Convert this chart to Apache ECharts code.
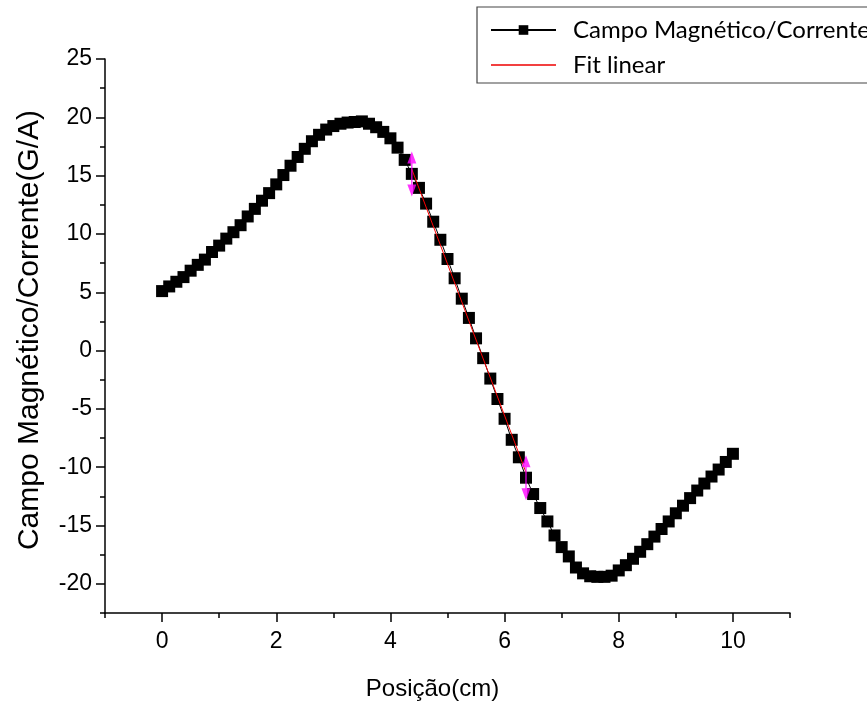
<!DOCTYPE html>
<html>
<head>
<meta charset="utf-8">
<title>Campo Magnético/Corrente</title>
<script src="https://cdn.jsdelivr.net/npm/echarts@6/dist/echarts.min.js"></script>
<style>
  html, body { margin: 0; padding: 0; background: #fff; }
  #main { width: 867px; height: 708px; }
</style>
</head>
<body>
<div id="main"></div>
<script>
// posição (cm)
var posicao = [0, 0.125, 0.25, 0.375, 0.5, 0.625, 0.75, 0.875,
  1, 1.125, 1.25, 1.375, 1.5, 1.625, 1.75, 1.875,
  2, 2.125, 2.25, 2.375, 2.5, 2.625, 2.75, 2.875,
  3, 3.125, 3.25, 3.375, 3.5, 3.625, 3.75, 3.875,
  4, 4.125, 4.25, 4.375, 4.5, 4.625, 4.75, 4.875,
  5, 5.125, 5.25, 5.375, 5.5, 5.625, 5.75, 5.875,
  6, 6.125, 6.25, 6.375, 6.5, 6.625, 6.75, 6.875,
  7, 7.125, 7.25, 7.375, 7.5, 7.625, 7.75, 7.875,
  8, 8.125, 8.25, 8.375, 8.5, 8.625, 8.75, 8.875,
  9, 9.125, 9.25, 9.375, 9.5, 9.625, 9.75, 9.875,
  10];
// campo magnético / corrente (G/A)
var campo = [5.1, 5.5, 5.9, 6.3, 6.85, 7.35, 7.8, 8.45,
  9.0, 9.6, 10.15, 10.75, 11.5, 12.15, 12.85, 13.5,
  14.25, 15.05, 15.85, 16.6, 17.3, 17.95, 18.5, 18.95,
  19.25, 19.45, 19.55, 19.6, 19.65, 19.45, 19.15, 18.75,
  18.2, 17.4, 16.35, 15.15, 13.95, 12.6, 11.05, 9.5,
  7.85, 6.2, 4.45, 2.8, 1.05, -0.65, -2.4, -4.15,
  -5.85, -7.65, -9.15, -10.9, -12.3, -13.5, -14.65, -15.85,
  -16.85, -17.65, -18.6, -19.1, -19.35, -19.4, -19.4, -19.3,
  -18.85, -18.4, -17.85, -17.25, -16.6, -15.95, -15.3, -14.65,
  -13.95, -13.3, -12.65, -12.0, -11.4, -10.8, -10.2, -9.55,
  -8.85];
// fit linear (ends of the fitted range)
var fitX = [4.375, 6.375];
var fitY = [15.55, -10.45];
// range markers of the fit
var rangeX = [4.375, 6.375];
var rangeY = [15.15, -10.9];

var xMajor = [0, 2, 4, 6, 8, 10];
var yMajor = [-20, -15, -10, -5, 0, 5, 10, 15, 20, 25];

function pairs(xs, ys) {
  return xs.map(function (x, i) { return [x, ys[i]]; });
}

var arrowPath = 'path://M4.5,0L9,12L5.2,12L5.2,33L9,33L4.5,45L0,33L3.8,33L3.8,12L0,12Z';
var labelFont = 'Liberation Sans, Arial, sans-serif';

var chart = echarts.init(document.getElementById('main'));
chart.setOption({
  animation: false,
  backgroundColor: '#fff',
  grid: { left: 105, right: 77, top: 59, bottom: 95 },
  legend: {
    data: [
      { name: 'Campo Magnético/Corrente' },
      { name: 'Fit linear', icon: 'path://M0,0L65,0L65,1.6L0,1.6Z', itemStyle: { color: '#ee0000' } }
    ],
    orient: 'vertical',
    left: 477,
    top: 7,
    padding: [11, 60, 6, 13],
    itemWidth: 65,
    itemHeight: 12,
    itemGap: 11,
    borderColor: '#444',
    borderWidth: 1.2,
    borderRadius: 0,
    selectedMode: false,
    textStyle: {
      fontFamily: 'Lato',
      fontSize: 24,
      color: '#000',
      padding: [0, 0, 0, 12]
    }
  },
  xAxis: [{
    // minor ticks
    type: 'value',
    min: -1, max: 11, interval: 1,
    axisLine: { onZero: false, lineStyle: { color: '#000', width: 1.5 } },
    axisTick: { length: 5, lineStyle: { color: '#000', width: 1.5 } },
    axisLabel: { show: false },
    splitLine: { show: false }
  }, {
    // major ticks, labels
    type: 'value',
    min: -1, max: 11,
    position: 'bottom',
    axisLine: { show: false, onZero: false },
    axisTick: { length: 9, customValues: xMajor, lineStyle: { color: '#000', width: 1.5 } },
    axisLabel: { customValues: xMajor, margin: 17, fontSize: 23, fontFamily: labelFont, color: '#000' },
    splitLine: { show: false },
    name: 'Posição(cm)',
    nameLocation: 'middle',
    nameGap: 64,
    nameTextStyle: { fontSize: 24, fontFamily: labelFont, color: '#000', padding: [0, 30, 0, 0] }
  }],
  yAxis: [{
    type: 'value',
    min: -22.5, max: 25, interval: 2.5,
    axisLine: { show: true, onZero: false, lineStyle: { color: '#000', width: 1.5 } },
    axisTick: { length: 5, lineStyle: { color: '#000', width: 1.5 } },
    axisLabel: { show: false },
    splitLine: { show: false }
  }, {
    type: 'value',
    min: -22.5, max: 25,
    position: 'left',
    axisLine: { show: false, onZero: false },
    axisTick: { length: 9, customValues: yMajor, lineStyle: { color: '#000', width: 1.5 } },
    axisLabel: { customValues: yMajor, margin: 13, fontSize: 23, fontFamily: labelFont, color: '#000' },
    splitLine: { show: false },
    name: 'Campo Magnético/Corrente(G/A)',
    nameLocation: 'middle',
    nameGap: 60,
    nameTextStyle: { fontSize: 30, fontFamily: labelFont, color: '#000', padding: [0, 0, 0, 12] }
  }],
  series: [{
    name: 'Campo Magnético/Corrente',
    type: 'line',
    data: pairs(posicao, campo),
    symbol: 'rect',
    symbolSize: 12,
    showAllSymbol: true,
    itemStyle: { color: '#000' },
    lineStyle: { color: '#000', width: 1 },
    z: 2
  }, {
    name: 'Fit linear',
    type: 'line',
    data: pairs(fitX, fitY),
    symbol: 'none',
    itemStyle: { color: '#ff0000' },
    lineStyle: { color: '#ff0000', width: 1 },
    z: 3
  }, {
    name: 'range',
    type: 'scatter',
    data: pairs(rangeX, rangeY),
    symbol: arrowPath,
    symbolSize: [9, 45],
    itemStyle: { color: '#ff00ff' },
    z: 4
  }]
});
</script>
</body>
</html>
